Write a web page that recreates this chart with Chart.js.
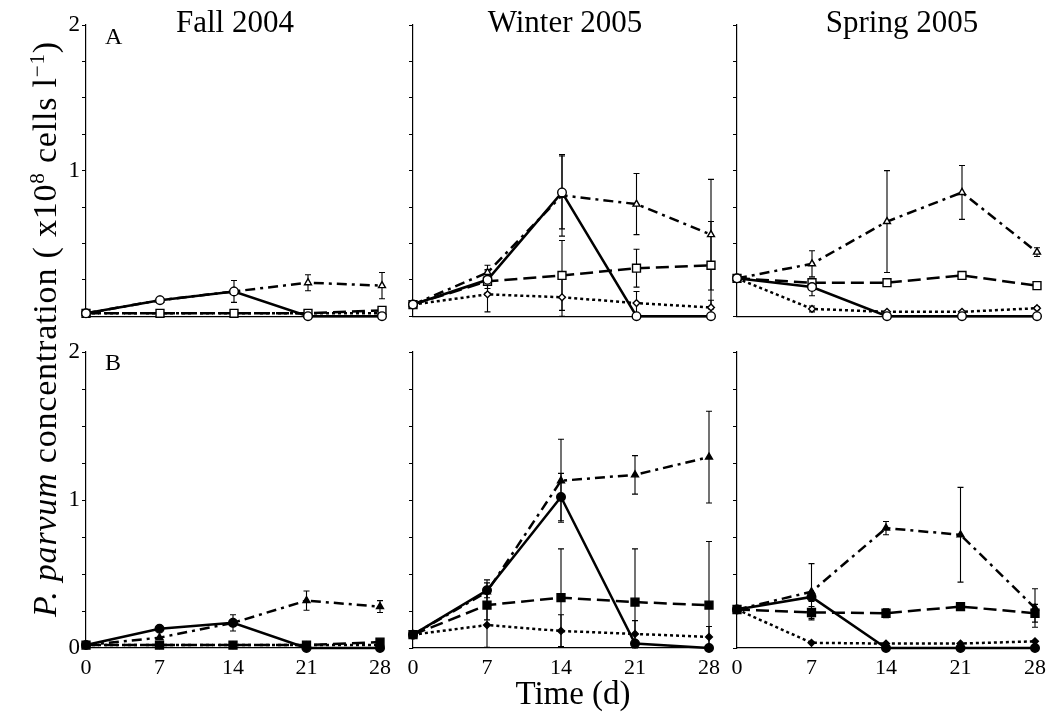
<!DOCTYPE html>
<html>
<head>
<meta charset="utf-8">
<script src="https://cdn.jsdelivr.net/npm/chart.js@4.4.1/dist/chart.umd.min.js"></script>
<style>
  html, body { margin: 0; padding: 0; background: #fff; }
  #wrap { position: relative; width: 1048px; height: 715px; overflow: hidden;
          font-family: "Liberation Serif", "Times New Roman", serif; color: #000; }
  #wrap canvas { position: absolute; }
  .txt { position: absolute; white-space: nowrap; line-height: 1; }
  sup { font-size: 0.62em; position: relative; top: -0.55em; vertical-align: baseline; }
</style>
</head>
<body>
<div id="wrap"></div>
<script>
// --- Data (x10^8 cells/l), one inner array per season: Fall, Winter, Spring ---
const days = [0, 7, 14, 21, 28];
const seasons = ['Fall 2004', 'Winter 2005', 'Spring 2005'];
const rowLetters = ['A', 'B'];

// Row A (open symbols)
const solidA   = [[0.02, 0.11, 0.17, 0.0, 0.0], [0.08, 0.25, 0.85, 0.0, 0.0], [0.26, 0.20, 0.0, 0.0, 0.0]];
const dashedA  = [[0.02, 0.02, 0.02, 0.02, 0.04], [0.08, 0.24, 0.28, 0.33, 0.35], [0.26, 0.23, 0.23, 0.28, 0.21]];
const dashDotA = [[0.02, 0.11, 0.17, 0.23, 0.21], [0.08, 0.30, 0.83, 0.77, 0.56], [0.26, 0.36, 0.65, 0.85, 0.44]];
const dottedA  = [[0.02, 0.02, 0.02, 0.02, 0.02], [0.08, 0.15, 0.13, 0.09, 0.06], [0.26, 0.05, 0.03, 0.03, 0.055]];
const solidErrA   = [[0, 0, 0, 0, 0], [0, 0.06, 0.25, 0, 0], [0, 0.06, 0, 0, 0]];
const dashedErrA  = [[0, 0, 0, 0, 0.01], [0, 0.08, 0.24, 0.13, 0.3], [0, 0.02, 0, 0, 0.02]];
const dashDotErrA = [[0, 0.01, 0.075, 0.055, 0.09], [0, 0.05, 0.28, 0.21, 0.38], [0, 0.09, 0.35, 0.185, 0.03]];
const dottedErrA  = [[0, 0, 0, 0, 0], [0, 0.12, 0.13, 0.08, 0.05], [0, 0.02, 0, 0, 0.01]];

// Row B (filled symbols)
const solidB   = [[0.02, 0.13, 0.17, 0.0, 0.0], [0.09, 0.39, 1.02, 0.03, 0.0], [0.26, 0.345, 0.0, 0.0, 0.0]];
const dashedB  = [[0.02, 0.02, 0.02, 0.02, 0.04], [0.09, 0.29, 0.34, 0.31, 0.29], [0.26, 0.24, 0.235, 0.28, 0.235]];
const dashDotB = [[0.02, 0.07, 0.17, 0.32, 0.28], [0.09, 0.38, 1.13, 1.17, 1.29], [0.26, 0.38, 0.81, 0.765, 0.27]];
const dottedB  = [[0.02, 0.02, 0.02, 0.02, 0.02], [0.09, 0.155, 0.115, 0.095, 0.075], [0.26, 0.035, 0.03, 0.03, 0.045]];
const solidErrB   = [[0, 0, 0.02, 0, 0], [0, 0.05, 0.16, 0, 0], [0, 0.03, 0, 0, 0]];
const dashedErrB  = [[0, 0, 0, 0, 0.01], [0, 0.1, 0.33, 0.36, 0.43], [0, 0.04, 0.03, 0.02, 0.06]];
const dashDotErrB = [[0, 0, 0.055, 0.065, 0.04], [0, 0.08, 0.28, 0.13, 0.31], [0, 0.19, 0.045, 0.32, 0.13]];
const dottedErrB  = [[0, 0, 0, 0, 0], [0, 0.15, 0.11, 0.09, 0.07], [0, 0, 0, 0, 0]];

const FONT = '"Liberation Serif", "Times New Roman", serif';
const wrap = document.getElementById('wrap');

// plot area of each panel (px)
const colLeft = [86, 413, 737], colRight = [382, 711, 1037];
const rowTop = [25, 352], rowBottom = [322, 648];

// --- error bar plugin: vertical whiskers with caps ---
const errorBars = {
    id: 'errorBars',
    beforeDatasetsDraw(chart) {
        const ctx = chart.ctx, y = chart.scales.y;
        ctx.save();
        ctx.strokeStyle = '#000';
        ctx.lineWidth = 1.1;
        chart.data.datasets.forEach((ds, di) => {
            const meta = chart.getDatasetMeta(di);
            (ds.errors || []).forEach((e, i) => {
                if (!e) return;
                const v = ds.data[i].y;
                const px = meta.data[i].x;
                const top = y.getPixelForValue(v + e);
                const bot = y.getPixelForValue(Math.max(v - e, 0));
                ctx.beginPath();
                ctx.moveTo(px, top); ctx.lineTo(px, bot);
                ctx.moveTo(px - 3, top); ctx.lineTo(px + 3, top);
                ctx.moveTo(px - 3, bot); ctx.lineTo(px + 3, bot);
                ctx.stroke();
            });
        });
        ctx.restore();
    }
};

function series(vals, errs, dash, style, radius, filled) {
    return {
        data: days.map((d, i) => ({ x: d, y: vals[i] })),
        errors: errs,
        borderColor: '#000',
        borderWidth: 2.5,
        borderDash: dash,
        tension: 0,
        pointStyle: style,
        pointRadius: radius,
        pointBorderWidth: 1.4,
        pointBorderColor: '#000',
        pointBackgroundColor: filled ? '#000' : '#fff',
        clip: false
    };
}

function makePanel(r, c) {
    const L = colLeft[c], R = colRight[c], T = rowTop[r], B = rowBottom[r];
    const ml = c === 0 ? 44 : 20, mr = 16, mt = 16, mb = r === 1 ? 44 : 10;
    const canvas = document.createElement('canvas');
    canvas.width = R - L + ml + mr;
    canvas.height = B - T + mt + mb;
    canvas.style.left = (L - ml) + 'px';
    canvas.style.top = (T - mt) + 'px';
    wrap.appendChild(canvas);

    const filled = r === 1;
    const set = filled
        ? [solidB, dashedB, dashDotB, dottedB, solidErrB, dashedErrB, dashDotErrB, dottedErrB]
        : [solidA, dashedA, dashDotA, dottedA, solidErrA, dashedErrA, dashDotErrA, dottedErrA];

    new Chart(canvas, {
        type: 'line',
        data: {
            datasets: [
                series(set[0][c], set[4][c], [], 'circle', 4.3, filled),
                series(set[1][c], set[5][c], [13, 6], 'rect', 5.6, filled),
                series(set[2][c], set[6][c], [10, 5, 3, 5], 'triangle', 4, filled),
                series(set[3][c], set[7][c], [3, 3], 'rectRot', 3.4, filled)
            ]
        },
        options: {
            responsive: false,
            animation: false,
            devicePixelRatio: 1,
            layout: { padding: { top: mt, right: mr, left: 0, bottom: 0 } },
            plugins: { legend: { display: false }, tooltip: { enabled: false } },
            scales: {
                x: {
                    type: 'linear', min: 0, max: 28,
                    afterFit: s => { s.height = mb; },
                    ticks: { stepSize: 7, display: r === 1, autoSkip: false, maxRotation: 0,
                             color: '#000', padding: 7, font: { family: FONT, size: 22 },
                             callback: v => String(v) },
                    grid: { drawOnChartArea: false, drawTicks: false },
                    border: { display: true, color: '#000', width: 1.2 }
                },
                y: {
                    min: 0, max: 2,
                    afterFit: s => { s.width = ml; },
                    ticks: { stepSize: 0.25, autoSkip: false, color: '#000', padding: 2,
                             font: { family: FONT, size: 23 },
                             callback: v => (c === 0 && Number.isInteger(v) && !(v === 0 && r === 0)) ? String(v) : '' },
                    grid: { drawOnChartArea: false, drawTicks: true, tickLength: 4, color: '#000', tickColor: '#000' },
                    border: { display: true, color: '#000', width: 1.2 }
                }
            }
        },
        plugins: [errorBars]
    });
}

for (let r = 0; r < 2; r++) for (let c = 0; c < 3; c++) makePanel(r, c);

// --- text labels ---
function addText(html, size, x, baseline, center) {
    const d = document.createElement('div');
    d.className = 'txt';
    d.innerHTML = html;
    d.style.fontSize = size + 'px';
    d.style.left = x + 'px';
    d.style.top = (baseline - 0.8375 * size) + 'px';
    if (center) d.style.transform = 'translateX(-50%)';
    wrap.appendChild(d);
    return d;
}

const titleX = [235, 565, 902];
seasons.forEach((s, i) => addText(s, 31, titleX[i], 32, true));
addText(rowLetters[0], 24, 105, 44, false);
addText(rowLetters[1], 24, 105, 370, false);
addText('Time (d)', 33, 573, 705, true);

const yl = document.createElement('div');
yl.className = 'txt';
yl.style.fontSize = '34px';
yl.style.letterSpacing = '0.8px';
yl.style.left = '45px';
yl.style.top = '329px';
yl.style.transform = 'translate(-50%, -50%) rotate(-90deg)';
yl.innerHTML = '<i>P. parvum</i> concentration ( x10<sup>8</sup> cells l<sup>\u22121</sup>)';
wrap.appendChild(yl);
</script>
</body>
</html>
